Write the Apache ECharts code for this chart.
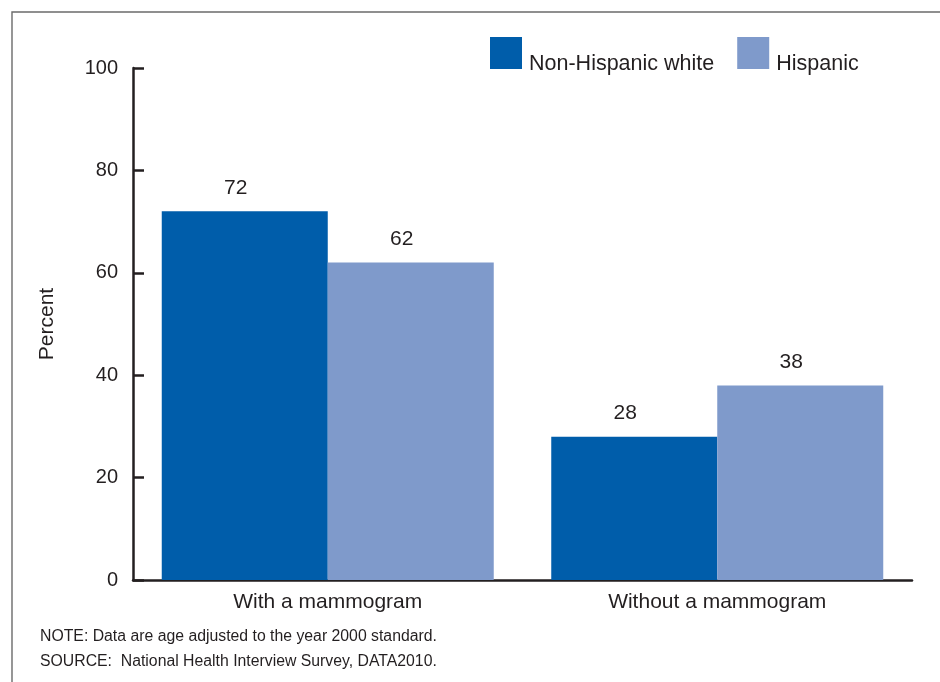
<!DOCTYPE html>
<html>
<head>
<meta charset="utf-8">
<script src="https://cdn.jsdelivr.net/npm/echarts@6/dist/echarts.min.js"></script>
<style>html,body{margin:0;padding:0;background:#fff}#c{width:940px;height:682px}</style>
</head>
<body>
<div id="c"></div>
<script>
const categories = ['With a mammogram', 'Without a mammogram'];
const seriesNames = ['Non-Hispanic white', 'Hispanic'];
const nonHispanicWhite = [72, 28];
const hispanic = [62, 38];
const yTicks = [0, 20, 40, 60, 80, 100];
const noteText = 'NOTE: Data are age adjusted to the year 2000 standard.';
const sourceText = 'SOURCE:  National Health Interview Survey, DATA2010.';

const FONT = 'Liberation Sans, Arial, Helvetica, sans-serif';
const INK = '#231f20';
// square icon in the upper part of a taller box so that the text sits lower, as in the reference
const LEGEND_ICON = 'path://M0,0L32,0L32,32L0,32Z M0,54L0.01,54';
const chart = echarts.init(document.getElementById('c'), null, {renderer: 'canvas'});
chart.setOption({
  backgroundColor: '#fff',
  animation: false,
  textStyle: {fontFamily: FONT, color: INK},
  graphic: [
    {type: 'rect', shape: {x: 12, y: 12, width: 1000, height: 1000}, style: {fill: 'none', stroke: '#6b6b6b', lineWidth: 1.4}, silent: true, z: -1},
    {type: 'text', left: 40, top: 629, style: {text: noteText, font: '15.8px ' + FONT, fill: INK}},
    {type: 'text', left: 40, top: 654, style: {text: sourceText, font: '15.8px ' + FONT, fill: INK}}
  ],
  legend: {
    left: 490, top: 37, padding: 0,
    itemWidth: 32, itemHeight: 54, itemGap: 23,
    icon: LEGEND_ICON,
    data: seriesNames,
    textStyle: {fontSize: 21.5, fontFamily: FONT, color: INK, padding: [0, 0, 0, 2]}
  },
  grid: {left: 133, right: 28, top: 68, bottom: 102, containLabel: false},
  xAxis: {
    type: 'category',
    data: categories,
    axisTick: {show: false},
    axisLine: {lineStyle: {color: INK, width: 2.5}},
    axisLabel: {fontSize: 21, color: INK, fontFamily: FONT, margin: 12}
  },
  yAxis: {
    type: 'value', min: 0, max: 100, interval: 20,
    name: 'Percent', nameLocation: 'middle', nameGap: 75, nameRotate: 90,
    nameTextStyle: {fontSize: 21, color: INK, fontFamily: FONT},
    axisLine: {show: true, lineStyle: {color: INK, width: 2.5}},
    axisTick: {show: true, inside: true, length: 11, lineStyle: {color: INK, width: 2.5}},
    splitLine: {show: false},
    axisLabel: {fontSize: 20, color: INK, fontFamily: FONT, margin: 15,
      formatter: v => yTicks.includes(v) ? String(v) : ''}
  },
  series: [
    {name: seriesNames[0], type: 'bar', data: nonHispanicWhite, barWidth: 166, barGap: '0%',
     itemStyle: {color: '#005daa'},
     label: {show: true, position: 'top', distance: 13, offset: [-9, 0], fontSize: 21, color: INK, fontFamily: FONT}},
    {name: seriesNames[1], type: 'bar', data: hispanic, barWidth: 166, barGap: '0%',
     itemStyle: {color: '#7f9acb'},
     label: {show: true, position: 'top', distance: 13, offset: [-9, 0], fontSize: 21, color: INK, fontFamily: FONT}}
  ]
});
</script>
</body>
</html>
